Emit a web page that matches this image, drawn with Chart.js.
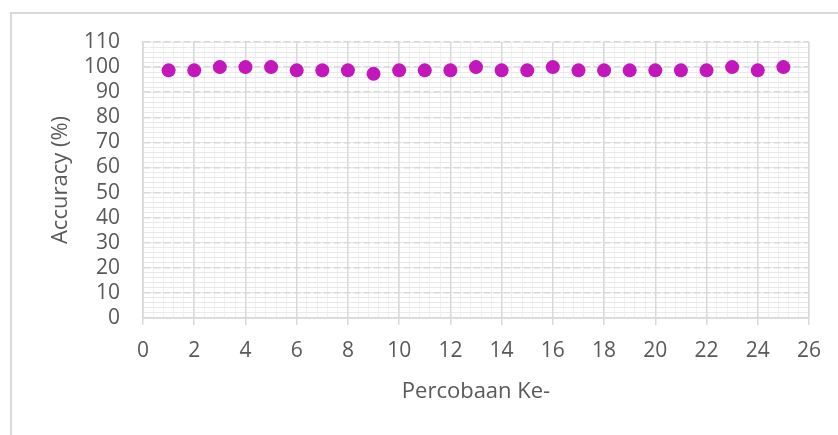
<!DOCTYPE html>
<html>
<head>
<meta charset="utf-8">
<script src="https://cdn.jsdelivr.net/npm/chart.js@4.4.0/dist/chart.umd.min.js"></script>
<style>
  html, body { margin: 0; padding: 0; background: #fff; }
  #wrap { position: relative; width: 838px; height: 435px; overflow: hidden; }
  #frame { position: absolute; left: 10px; top: 12px; width: 900px; height: 500px;
           border-left: 2px solid #d9d9d9; border-top: 2px solid #d9d9d9; }
  canvas { position: absolute; left: 0; top: 0; }
</style>
</head>
<body>
<div id="wrap">
  <div id="frame"></div>
  <canvas id="accChart" width="838" height="435"></canvas>
</div>
<script>
// percobaan ke- (1..25) dan akurasi yang dibaca dari gambar
const percobaan = [1, 2, 3, 4, 5, 6, 7, 8, 9, 10, 11, 12, 13, 14, 15, 16, 17, 18, 19, 20, 21, 22, 23, 24, 25];
const akurasi = [98.7, 98.7, 100, 100, 100, 98.7, 98.7, 98.7, 97.3, 98.7, 98.7, 98.7, 100, 98.7, 98.7, 100, 98.7, 98.7, 98.7, 98.7, 98.7, 98.7, 100, 98.7, 100];
const xTicks = [0, 26, 2];   // min, max, langkah
const yTicks = [0, 110, 10];

const textColor = "#595959";
const gridColor = "#d9d9d9";
const fontFam = "'Open Sans', 'Liberation Sans', sans-serif";

const puntos = percobaan.map((p, i) => ({ x: p, y: akurasi[i] }));

const ctx = document.getElementById("accChart").getContext("2d");
const accChart = new Chart(ctx, {
  type: "scatter",
  data: {
    datasets: [
      {
        label: "Accuracy",
        data: puntos,
        backgroundColor: "#c316bb",
        borderColor: "#c316bb",
        pointRadius: 7,
        pointHoverRadius: 7,
        borderWidth: 0,
      },
    ],
  },
  options: {
    responsive: false,
    animation: false,
    layout: { padding: { top: 42, right: 29, left: 0, bottom: 0 } },
    plugins: {
      legend: { display: false },
      tooltip: { enabled: false },
    },
    scales: {
      // rejilla menor (solo lineas)
      xMinor: {
        type: "linear",
        position: "bottom",
        min: xTicks[0],
        max: xTicks[1],
        z: -1,
        ticks: { display: false, stepSize: 0.4 },
        grid: { color: "#f0f0f0", lineWidth: 1, drawTicks: false },
        border: { display: false },
        afterFit: (s) => { s.height = 0; },
      },
      yMinor: {
        type: "linear",
        position: "left",
        min: yTicks[0],
        max: yTicks[1],
        z: -1,
        ticks: { display: false, stepSize: 2 },
        grid: { color: "#e9e9e9", lineWidth: 1, drawTicks: false },
        border: { display: false },
        afterFit: (s) => { s.width = 0; },
      },
      x: {
        type: "linear",
        position: "bottom",
        min: xTicks[0],
        max: xTicks[1],
        ticks: {
          stepSize: xTicks[2],
          autoSkip: false,
          color: textColor,
          font: { family: fontFam, size: 21 },
          padding: 13,
        },
        grid: { color: gridColor, lineWidth: 1.5, tickLength: 7, drawTicks: true },
        border: { display: true, color: gridColor, width: 1.5 },
        title: {
          display: true,
          text: "Percobaan Ke-",
          color: textColor,
          font: { family: fontFam, size: 22 },
          padding: { top: 0, bottom: 30 },
        },
        afterFit: (s) => { s.height = 117; },
      },
      y: {
        type: "linear",
        position: "left",
        min: yTicks[0],
        max: yTicks[1],
        ticks: {
          stepSize: yTicks[2],
          autoSkip: false,
          color: textColor,
          font: { family: fontFam, size: 21 },
          padding: 23,
        },
        grid: { color: gridColor, lineWidth: 1.5, drawTicks: false },
        border: { display: true, color: gridColor, width: 1.5, dash: [7, 3] },
        title: {
          display: true,
          text: "Accuracy (%)",
          color: textColor,
          font: { family: fontFam, size: 22 },
          padding: { top: 48, bottom: 0 },
        },
        afterFit: (s) => { s.width = 143; },
      },
    },
  },
});
</script>
</body>
</html>
